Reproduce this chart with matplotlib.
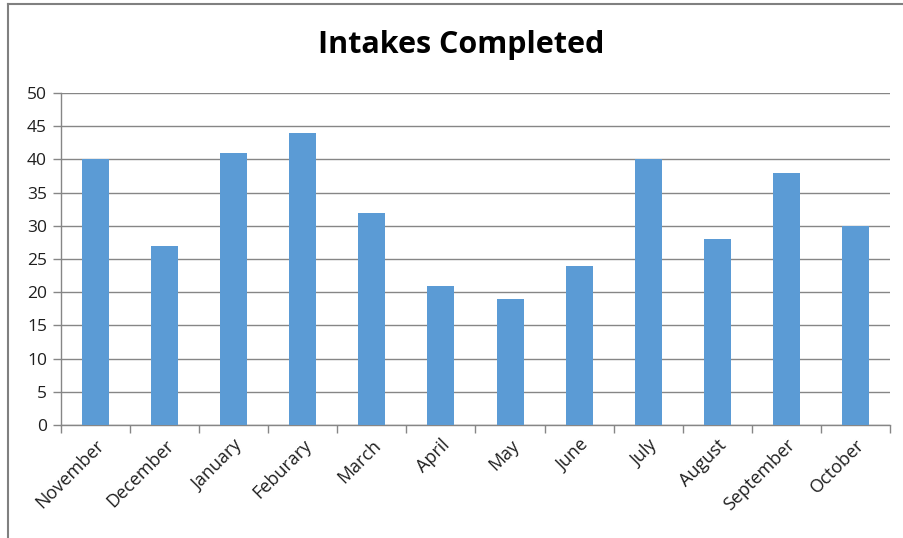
import matplotlib.pyplot as plt
from matplotlib.lines import Line2D

months = ["November", "December", "January", "Feburary", "March", "April",
          "May", "June", "July", "August", "September", "October"]
intakes = [40, 27, 41, 44, 32, 21, 19, 24, 40, 28, 38, 30]
y_ticks = list(range(0, 55, 5))

plt.rcParams['font.family'] = ['Open Sans', 'DejaVu Sans']

fig = plt.figure(figsize=(9.04, 5.38), dpi=100)
ax = fig.add_axes([61 / 904, 1 - 425 / 538, (890 - 61) / 904, (425 - 93) / 538])

x = list(range(len(months)))
ax.bar(x, intakes, width=0.39, color='#5B9BD5', zorder=3)

ax.set_xlim(-0.5, len(months) - 0.5)
ax.set_ylim(0, 50)
ax.set_yticks(y_ticks)
ax.set_xticks(x)
ax.set_xticklabels(months, rotation=45, ha='right', rotation_mode='anchor',
                   fontsize=13, color='#1f1f1f')
ax.set_xticks([i - 0.5 for i in range(len(months) + 1)], minor=True)

ax.tick_params(axis='x', which='major', length=0, pad=8)
ax.tick_params(axis='x', which='minor', length=6, color='#868686', width=1)
ax.tick_params(axis='y', length=6, color='#868686', width=1, labelsize=12.5,
               labelcolor='#1f1f1f', pad=4)

ax.grid(axis='y', color='#868686', linewidth=1, zorder=0)
for side in ['top', 'right']:
    ax.spines[side].set_visible(False)
for side in ['left', 'bottom']:
    ax.spines[side].set_color('#868686')
    ax.spines[side].set_linewidth(1)

fig.text(461 / 904, 1 - 45 / 538, "Intakes Completed", ha='center', va='center',
         fontsize=22, fontweight='bold', color='black')

# thin frame along the top and left edges
fig.add_artist(Line2D([8 / 904, 1], [1 - 4 / 538, 1 - 4 / 538],
                      transform=fig.transFigure, color='#808080', linewidth=1.5))
fig.add_artist(Line2D([8 / 904, 8 / 904], [0, 1 - 4 / 538],
                      transform=fig.transFigure, color='#808080', linewidth=1.5))

fig.savefig('out.png', dpi=100)
